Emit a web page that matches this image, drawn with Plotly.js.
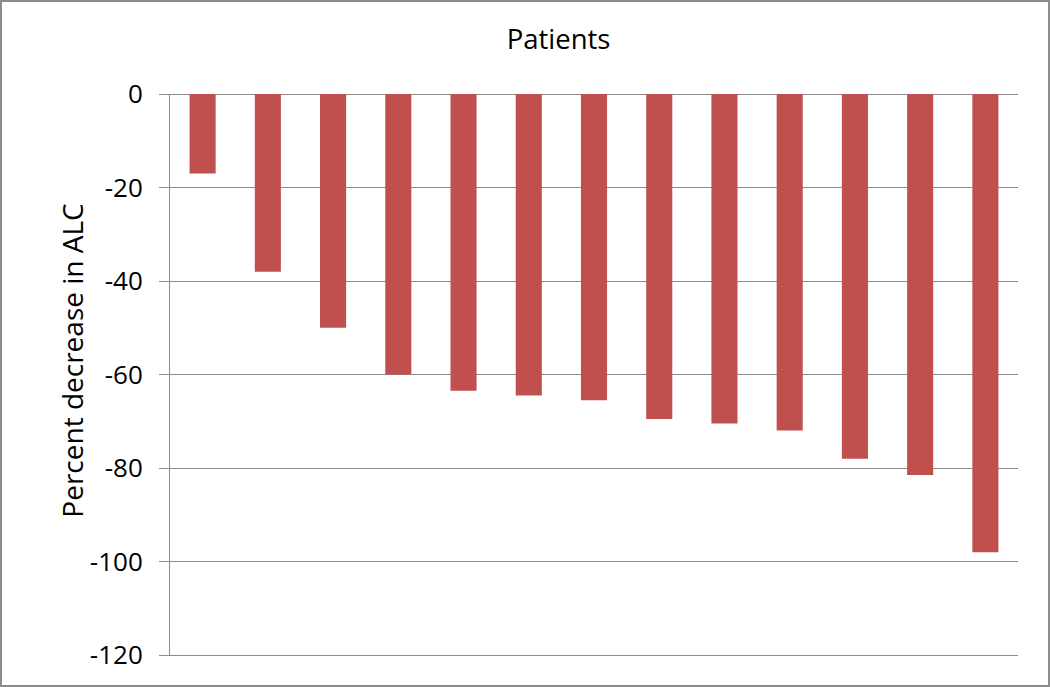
<!DOCTYPE html>
<html>
<head>
<meta charset="utf-8">
<script src="https://cdn.plot.ly/plotly-3.0.1.min.js"></script>
<style>
  html, body { margin: 0; padding: 0; background: #fff; }
  #wrap { position: relative; width: 1050px; height: 687px; }
  #chart { position: absolute; left: 0; top: 0; width: 1050px; height: 687px; }
  #frame { position: absolute; left: 0; top: 0; width: 1050px; height: 687px; box-sizing: border-box; border: 2px solid #8c8c8c; pointer-events: none; }
</style>
</head>
<body>
<div id="wrap"><div id="chart"></div><div id="frame"></div></div>
<script>
const patients = ["1","2","3","4","5","6","7","8","9","10","11","12","13"];
const percentDecrease = [-17, -38, -50, -60, -63.5, -64.5, -65.5, -69.5, -70.5, -72, -78, -81.5, -98];
const yTickValues = [0, -20, -40, -60, -80, -100, -120];
const yTickLabels = ["0", "-20", "-40", "-60", "-80", "-100", "-120"];
const chartTitle = "Patients";
const yTitle = "Percent decrease in ALC";

const font = "'Open Sans', sans-serif";
const grey = "#8c8c8c";

Plotly.newPlot("chart", [{
  type: "bar",
  x: patients,
  y: percentDecrease,
  marker: { color: "#C0504D" },
  hoverinfo: "y"
}], {
  width: 1050, height: 687,
  margin: { l: 170, r: 32, t: 94, b: 32, pad: 0 },
  paper_bgcolor: "#ffffff",
  plot_bgcolor: "#ffffff",
  bargap: 0.6,
  showlegend: false,
  title: {
    text: chartTitle,
    font: { family: font, size: 27.5, color: "#000" },
    xref: "container", x: 0.532, xanchor: "center",
    yref: "container", y: 0.942, yanchor: "middle"
  },
  annotations: [{
    text: yTitle,
    textangle: -90,
    xref: "paper", yref: "paper",
    x: -0.116, y: 0.524,
    xanchor: "center", yanchor: "middle",
    showarrow: false,
    font: { family: font, size: 28, color: "#000" }
  }],
  xaxis: {
    type: "category",
    showticklabels: false,
    ticks: "",
    showgrid: false,
    showline: true,
    linecolor: grey,
    linewidth: 1,
    zeroline: false
  },
  yaxis: {
    range: [-120, 0],
    tickvals: yTickValues,
    ticktext: yTickLabels,
    ticks: "outside",
    ticklen: 10,
    tickcolor: grey,
    tickwidth: 1,
    ticklabelstandoff: 11,
    showline: true,
    linecolor: grey,
    linewidth: 1,
    showgrid: true,
    gridcolor: grey,
    gridwidth: 1,
    zeroline: true,
    zerolinecolor: grey,
    zerolinewidth: 1,
    tickfont: { family: font, size: 26, color: "#000" }
  }
}, { displayModeBar: false, staticPlot: true });
</script>
</body>
</html>
